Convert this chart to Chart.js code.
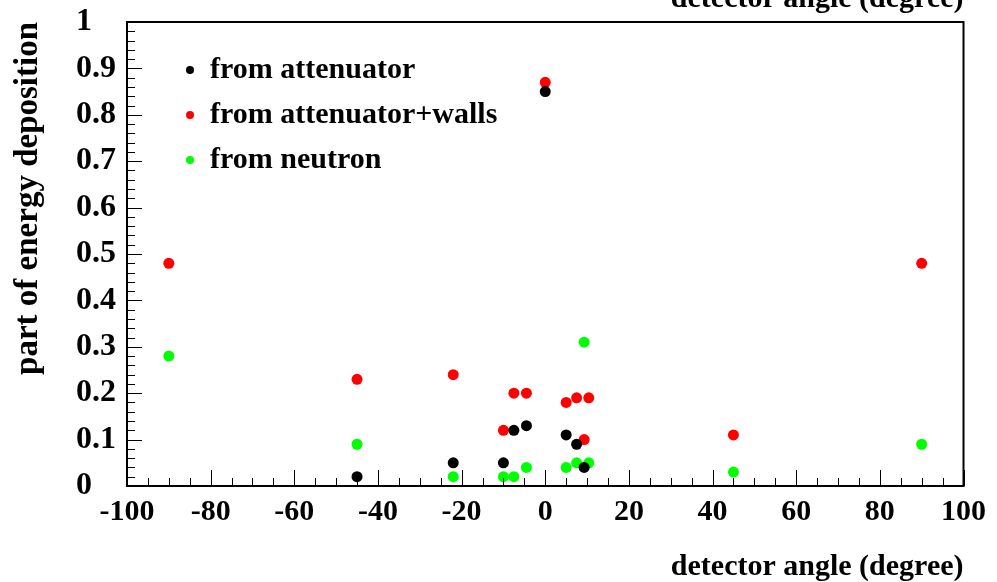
<!DOCTYPE html>
<html>
<head>
<meta charset="utf-8">
<script src="https://cdn.jsdelivr.net/npm/chart.js@4/dist/chart.umd.min.js"></script>
<style>
  html, body { margin: 0; padding: 0; background: #fff; }
  #wrap { width: 997px; height: 582px; }
</style>
</head>
<body>
<div id="wrap"><canvas id="c" width="997" height="582"></canvas></div>
<script>
// ---- data ----
const seriesNames = ["from attenuator", "from attenuator+walls", "from neutron"];
const seriesColors = ["#000000", "#ff0000", "#00ff00"];

const attenuatorAngle = [-45, -22, -10, -7.5, -4.5, 0, 5, 7.5, 9.3];
const attenuatorValue = [0.02, 0.05, 0.05, 0.12, 0.13, 0.85, 0.11, 0.09, 0.04];

const wallsAngle = [-90, -45, -22, -10, -7.5, -4.5, 0, 5, 7.5, 9.3, 10.4, 45, 90];
const wallsValue = [0.48, 0.23, 0.24, 0.12, 0.20, 0.20, 0.87, 0.18, 0.19, 0.10, 0.19, 0.11, 0.48];

const neutronAngle = [-90, -45, -22, -10, -7.5, -4.5, 5, 7.5, 9.3, 10.4, 45, 90];
const neutronValue = [0.28, 0.09, 0.02, 0.02, 0.02, 0.04, 0.04, 0.05, 0.31, 0.05, 0.03, 0.09];

const xTickValues = [-100, -80, -60, -40, -20, 0, 20, 40, 60, 80, 100];
const yTickValues = [0, 0.1, 0.2, 0.3, 0.4, 0.5, 0.6, 0.7, 0.8, 0.9, 1];
const xTitle = "detector angle (degree)";
const yTitle = "part of energy deposition";

const FONT = "'Liberation Serif', 'Times New Roman', serif";

function pts(xs, ys) { return xs.map((x, i) => ({ x: x, y: ys[i] })); }

const seriesData = [
  pts(attenuatorAngle, attenuatorValue),
  pts(wallsAngle, wallsValue),
  pts(neutronAngle, neutronValue)
];

const datasets = seriesData.map((d, i) => ({
  label: seriesNames[i],
  data: d,
  showLine: false,
  pointRadius: 5.5,
  pointHoverRadius: 5.5,
  pointBorderWidth: 0,
  pointBackgroundColor: seriesColors[i],
  pointBorderColor: seriesColors[i],
  backgroundColor: seriesColors[i],
  borderColor: seriesColors[i]
}));

// frame, inward ticks, legend and the cut-off top text
const rootStyle = {
  id: 'rootStyle',
  afterDatasetsDraw(chart) {
    const ctx = chart.ctx;
    const a = chart.chartArea;
    const xs = chart.scales.x, ys = chart.scales.y;
    ctx.save();
    // inward tick marks
    ctx.strokeStyle = '#000';
    ctx.lineWidth = 1;
    ctx.beginPath();
    for (let k = 0; k <= 40; k++) {
      const v = -100 + k * 5;
      const px = Math.round(xs.getPixelForValue(v)) + 0.5;
      const len = (k % 4 === 0) ? 16 : 8;
      ctx.moveTo(px, a.bottom);
      ctx.lineTo(px, a.bottom - len);
    }
    for (let k = 0; k <= 50; k++) {
      const v = k * 0.02;
      const py = Math.round(ys.getPixelForValue(v)) + 0.5;
      const len = (k % 5 === 0) ? 15 : 8;
      ctx.moveTo(a.left, py);
      ctx.lineTo(a.left + len, py);
    }
    ctx.stroke();
    // frame
    ctx.lineWidth = 2;
    ctx.strokeRect(a.left, a.top, a.right - a.left, a.bottom - a.top);
    // legend
    const ds = chart.data.datasets;
    const lx = 190, ly0 = 70, dy = 45;
    ctx.font = "bold 30px " + FONT;
    ctx.textBaseline = 'middle';
    ctx.textAlign = 'left';
    ds.forEach((d, i) => {
      const y = ly0 + i * dy;
      ctx.fillStyle = d.pointBackgroundColor;
      ctx.beginPath();
      ctx.arc(lx, y, 4, 0, Math.PI * 2);
      ctx.fill();
      ctx.fillStyle = '#000';
      ctx.fillText(d.label, lx + 20, y);
    });
    // duplicated title cut off at the top edge
    ctx.textBaseline = 'alphabetic';
    ctx.textAlign = 'right';
    ctx.fillStyle = '#000';
    ctx.fillText(xTitle, a.right, 7);
    ctx.restore();
  }
};

new Chart(document.getElementById('c'), {
  type: 'scatter',
  data: { datasets: datasets },
  options: {
    responsive: false,
    animation: false,
    events: [],
    layout: { padding: { left: 76, top: 22, right: 32, bottom: 0 } },
    plugins: { legend: { display: false }, tooltip: { enabled: false } },
    scales: {
      x: {
        type: 'linear', min: -100, max: 100,
        afterFit(s) { s.height = 96; },
        afterBuildTicks(s) { s.ticks = xTickValues.map(v => ({ value: v })); },
        grid: { display: false, drawTicks: false },
        border: { display: false },
        ticks: {
          color: '#000', padding: 11, maxRotation: 0, autoSkip: false,
          font: { family: FONT, size: 30, weight: 'bold', lineHeight: 1 },
          callback: v => String(v)
        },
        title: {
          display: true, text: xTitle, align: 'end', color: '#000',
          padding: { top: 0, bottom: 0 },
          font: { family: FONT, size: 30, weight: 'bold', lineHeight: 1 }
        }
      },
      y: {
        type: 'linear', min: 0, max: 1,
        afterFit(s) { s.width = 51; },
        afterBuildTicks(s) { s.ticks = yTickValues.map(v => ({ value: v })); },
        grid: { display: false, drawTicks: false },
        border: { display: false },
        ticks: {
          color: '#000', padding: 0, autoSkip: false, crossAlign: 'far',
          font: { family: FONT, size: 32, weight: 'bold', lineHeight: 1 },
          callback: v => String(Math.round(v * 10) / 10)
        },
        title: {
          display: true, text: yTitle, align: 'end', color: '#000',
          padding: { top: -64, bottom: 0 },
          font: { family: FONT, size: 33, weight: 'bold', lineHeight: 1 }
        }
      }
    }
  },
  plugins: [rootStyle]
});
</script>
</body>
</html>
